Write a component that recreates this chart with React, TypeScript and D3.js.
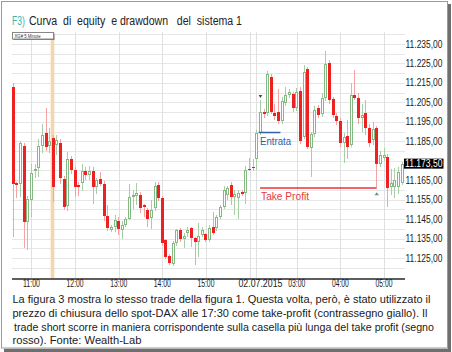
import React from 'react';
import * as d3 from 'd3';

// XG# 5 minute bars, 01.07.2015 10:35 -> 02.07.2015 05:10 (chart time)
const barOpen = [
  11213, 11163.5, 11163, 11182.5, 11143.5, 11155, 11169.5, 11171.5, 11182.5, 11189.5,
  11182.5, 11186.5, 11183, 11184, 11165.5, 11151.5, 11176, 11170, 11162.5, 11163.5,
  11169.5, 11167.5, 11169.5, 11161.5, 11165.5, 11163, 11146.5, 11139.5, 11141, 11144,
  11139.5, 11142, 11145, 11156.5, 11157, 11157.5, 11152, 11149.5, 11145.5, 11150.5,
  11162.5, 11156, 11134, 11126, 11122, 11132.5, 11139.4, 11134.7, 11137.7, 11140.2,
  11135.1, 11133.4, 11136.8, 11137.1, 11134.2, 11141, 11140.2, 11146.2, 11151.3, 11157.5,
  11162.5, 11156.5, 11156, 11159, 11158.2, 11170.5, 11172, 11175.7, 11189.5, 11200.2,
  11199.5, 11218, 11199.5, 11200, 11195.5, 11204.5, 11208.8, 11209.3, 11202, 11211,
  11187.4, 11222, 11181.5, 11188.7, 11202, 11199, 11207, 11225.4, 11206.6, 11198,
  11195.6, 11183.9, 11187.7, 11183.1, 11208.8, 11207.1, 11197, 11199.7, 11191.6, 11185.6,
  11191.6, 11173.3, 11176.5, 11177.1, 11161.7, 11161.7, 11161.7, 11163.4,
];
const barHigh = [
  11215, 11164, 11185, 11184, 11157, 11173.5, 11173.5, 11186, 11194, 11202,
  11192, 11188, 11188, 11186, 11167, 11179.5, 11177.5, 11172, 11164, 11173.5,
  11172, 11172.5, 11172, 11166, 11169, 11164.5, 11152, 11142, 11147, 11146,
  11144, 11146, 11163, 11160, 11163.5, 11159, 11153, 11150.5, 11155, 11164,
  11164, 11157, 11135, 11127, 11133.5, 11140, 11140.5, 11138, 11141, 11141,
  11136, 11142.8, 11141, 11138, 11142, 11148.8, 11147, 11152, 11162, 11162,
  11164, 11160, 11160, 11160, 11172.5, 11176.5, 11176, 11191, 11206, 11201.5,
  11221, 11219.5, 11204, 11212, 11208, 11213, 11212, 11210.5, 11212.5, 11213,
  11224.2, 11223, 11190, 11203, 11203.5, 11210, 11231.5, 11227, 11208, 11199.5,
  11197, 11189, 11196, 11214.7, 11221.5, 11210, 11204, 11206, 11194, 11195,
  11193, 11180, 11181.5, 11178.5, 11171, 11171.5, 11172, 11174.5,
];
const barLow = [
  11136, 11156, 11156.5, 11130, 11129, 11146, 11166, 11166.5, 11179, 11180,
  11179, 11154, 11178, 11163, 11149.5, 11149, 11168, 11156.5, 11157, 11159.5,
  11165, 11165, 11153, 11158, 11162, 11144, 11139, 11138.5, 11138.5, 11137,
  11135, 11141, 11144.5, 11150, 11152, 11148, 11146, 11141, 11140, 11149,
  11154.5, 11131, 11124.5, 11121.5, 11121, 11131, 11133, 11130, 11136, 11130.8,
  11121.4, 11125.7, 11136, 11133, 11133, 11137, 11139, 11145, 11150, 11155,
  11152, 11147, 11145, 11157, 11153, 11169.5, 11169.5, 11170, 11188, 11197,
  11198, 11199, 11196, 11194, 11194, 11203, 11207, 11200, 11200.5, 11183.5,
  11186, 11181, 11166.8, 11187, 11197, 11197.5, 11205.5, 11204, 11197, 11193.5,
  11182, 11173.7, 11176, 11182, 11206, 11194, 11190, 11188, 11182, 11183,
  11161.6, 11172, 11175, 11151.4, 11157.5, 11156, 11158, 11162.5,
];
const barClose = [
  11163, 11162.5, 11184, 11143.5, 11155.5, 11168.5, 11171, 11182.5, 11188, 11182,
  11185, 11161.5, 11185.5, 11166, 11151, 11176, 11170, 11161.5, 11161.5, 11169.5,
  11167.5, 11169.5, 11161.5, 11165, 11163, 11146.5, 11140.5, 11141, 11144.5, 11140,
  11142, 11145, 11156.5, 11157.5, 11158.5, 11150.5, 11151, 11145, 11149.5, 11162,
  11156, 11132.5, 11125.7, 11122.6, 11132.8, 11139.4, 11135, 11136.5, 11139.4, 11135.1,
  11133.4, 11136.3, 11139.4, 11134.5, 11140.2, 11138, 11146.2, 11151.3, 11160, 11161,
  11156.5, 11158, 11158.5, 11158, 11170, 11170, 11171.5, 11189.4, 11200, 11198.8,
  11219.5, 11200.2, 11198, 11195.5, 11205.7, 11208.8, 11210.5, 11202, 11210.5, 11185,
  11220.8, 11182.2, 11188.7, 11201, 11198.5, 11207, 11224.7, 11206, 11198.5, 11195.6,
  11184, 11187.4, 11182.2, 11208.8, 11207.1, 11196.8, 11198.5, 11191.6, 11184.3, 11191.1,
  11173.3, 11178, 11178, 11160.8, 11163.4, 11165.1, 11169.4, 11173.5,
];

const timeLabels = ['11:00', '12:00', '13:00', '14:00', '15:00', '02.07.2015', '03:00', '04:00', '05:00'];
const timeLabelBars = [5, 17, 29, 41, 53, 68, 78, 90, 102];
const gridBars = [5, 17, 29, 41, 53, 65, 66.9, 78, 90, 102];
const priceTicks = [11125, 11135, 11145, 11155, 11165, 11175, 11185, 11195, 11205, 11215, 11225, 11235];
const minorTicks = [11120, 11130, 11140, 11150, 11160, 11170, 11180, 11190, 11200, 11210, 11220, 11230, 11240];
const lastPrice = 11173.5;

const highlightBar = 11; // spot-DAX close 17:30
const signalBar = 68;
const entryPrice = 11189.5;
const entryFromBar = 67.5;
const entryToBar = 73.5;
const takeProfitPrice = 11161;
const takeProfitFromBar = 67.9;
const exitBar = 100;

const titleTag = 'F3)';
const titleText = 'Curva  di  equity  e drawdown   del  sistema 1';
const captionLines = [
  'La figura 3 mostra lo stesso trade della figura 1. Questa volta, però, è stato utilizzato il',
  'prezzo di chiusura dello spot-DAX alle 17:30 come take-profit (contrassegno giallo). Il',
  'trade short scorre in maniera corrispondente sulla casella più lunga del take profit (segno',
  'rosso). Fonte: Wealth-Lab',
];

const W = 452;
const H = 352;
const plot = { left: 12, right: 405, top: 32, bottom: 278 };
const captionWidths = [418, 415, 420, 129];
const FONT = "'Liberation Sans', Arial, sans-serif";

const RED = '#ee2020';
const RED_WICK = '#f3a3a3';
const GREEN = '#84b984';
const GREEN_WICK = '#a6cfa6';

export default function App() {
  const x = d3.scaleLinear().domain([0, 102]).range([13.3, 384]);
  const y = d3.scaleLinear().domain([11125, 11235]).range([258, 44]);
  const step = x(1) - x(0);
  const fmt = d3
    .formatLocale({ decimal: ',', thousands: '.', grouping: [3], currency: ['', ''] })
    .format(',.2f');

  const candles = barOpen.map((o, i) => {
    const c = barClose[i];
    const up = c >= o;
    const bx = Math.round(x(i) - 1.5);
    const yTop = Math.round(y(Math.max(o, c)));
    const yBot = Math.round(y(Math.min(o, c)));
    const h = Math.max(1, yBot - yTop);
    return (
      <g key={i}>
        <line
          x1={bx + 1.5}
          x2={bx + 1.5}
          y1={y(barHigh[i])}
          y2={y(barLow[i])}
          stroke={up ? GREEN_WICK : RED_WICK}
          strokeWidth={1}
        />
        {up ? (
          <rect x={bx + 0.5} y={yTop + 0.5} width={2} height={Math.max(1, h - 1)} fill="#fff" stroke={GREEN} strokeWidth={1} />
        ) : (
          <rect x={bx} y={yTop} width={3} height={h} fill={RED} />
        )}
      </g>
    );
  });

  const yLast = y(lastPrice);
  const ySig = y(barHigh[signalBar]) - 4;
  const yExit = y(barLow[exitBar]) + 7;
  // the last-price box hides the tick label it falls on
  const shownTicks = priceTicks.filter((p) => Math.abs(y(p) - yLast) > 8);

  return (
    <svg
      width={W}
      height={H}
      style={{ position: 'absolute', left: 0, top: 0, background: '#fff' }}
      fontFamily={FONT}
    >
      {/* frame */}
      <rect x={0} y={0} width={W} height={H} fill="#fff" />
      <rect x={1.5} y={1.5} width={446} height={346.5} fill="none" stroke="#9a9a9a" />
      <rect x={448} y={4} width={3} height={348} fill="#6e6e6e" />
      <rect x={4} y={348.8} width={447} height={3.2} fill="#6e6e6e" />

      {/* title */}
      <text x={12} y={25} fontSize={12} fill="#3fb5ad" textLength={13} lengthAdjust="spacingAndGlyphs">
        {titleTag}
      </text>
      <text x={29} y={25} fontSize={12} fill="#222" textLength={213} lengthAdjust="spacingAndGlyphs" style={{ whiteSpace: 'pre' }}>
        {titleText}
      </text>

      {/* grid */}
      <g shapeRendering="crispEdges">
        {minorTicks.concat(priceTicks).map((p) => (
          <line key={'h' + p} x1={plot.left} x2={plot.right} y1={Math.round(y(p)) + 0.5} y2={Math.round(y(p)) + 0.5} stroke="#e6e6e6" />
        ))}
        {gridBars.map((b) => (
          <line key={'v' + b} x1={Math.round(x(b)) + 0.5} x2={Math.round(x(b)) + 0.5} y1={plot.top} y2={plot.bottom} stroke="#e0e0e0" />
        ))}
      </g>

      {/* 17:30 spot close highlight */}
      <rect
        x={x(highlightBar) - step / 2 - 0.8}
        y={plot.top}
        width={step}
        height={plot.bottom - plot.top}
        fill="#f5d7ad"
      />

      {/* candles */}
      <g shapeRendering="crispEdges">{candles}</g>

      {/* entry */}
      <line x1={x(entryFromBar)} x2={x(entryToBar)} y1={y(entryPrice)} y2={y(entryPrice)} stroke="#3562a3" strokeWidth={1.5} />
      <text x={x(entryFromBar) + 1.5} y={y(entryPrice) + 12} fontSize={11} fill="#2f5f9f" textLength={31} lengthAdjust="spacingAndGlyphs">
        Entrata
      </text>
      <path d={`M${x(signalBar) - 1.8},${ySig - 1.5} L${x(signalBar) + 1.8},${ySig - 1.5} L${x(signalBar)},${ySig + 1.5} Z`} fill="#444" />

      {/* take profit */}
      <line x1={x(takeProfitFromBar)} x2={x(exitBar)} y1={y(takeProfitPrice)} y2={y(takeProfitPrice)} stroke="#e83434" strokeWidth={1.5} />
      <text x={x(takeProfitFromBar) + 1} y={y(takeProfitPrice) + 12} fontSize={11} fill="#e23c3c" textLength={48} lengthAdjust="spacingAndGlyphs">
        Take Profit
      </text>
      <path d={`M${x(exitBar) - 2.2},${yExit + 1.5} L${x(exitBar) + 2.2},${yExit + 1.5} L${x(exitBar)},${yExit - 1.5} Z`} fill="#47a66a" />

      {/* symbol box */}
      <rect x={13.5} y={33.5} width={41} height={6.5} fill="#777" />
      <rect x={12.5} y={32.5} width={41} height={6.5} fill="#fff" stroke="#888" strokeWidth={1} />
      <text x={14.5} y={38.2} fontSize={5.5} fill="#333" textLength={26} lengthAdjust="spacingAndGlyphs">
        XG# 5 Minute
      </text>

      {/* price axis */}
      {shownTicks.map((p) => (
        <text key={'t' + p} x={405.5} y={y(p)} dy="0.35em" fontSize={10} fill="#1a1a1a" textLength={37} lengthAdjust="spacingAndGlyphs">
          {fmt(p)}
        </text>
      ))}
      <rect x={404} y={yLast - 5} width={39.5} height={10} fill="#000" />
      <text x={405} y={yLast} dy="0.35em" fontSize={10} fill="#fff" textLength={37.5} lengthAdjust="spacingAndGlyphs">
        {fmt(lastPrice)}
      </text>

      {/* time axis */}
      <line x1={plot.left} x2={plot.right} y1={plot.bottom + 1} y2={plot.bottom + 1} stroke="#5e5e5e" strokeWidth={2} />
      {timeLabels.map((t, i) => (
        <text
          key={t}
          x={x(timeLabelBars[i])}
          y={287}
          textAnchor="middle"
          fontSize={10}
          fill="#1a1a1a"
          textLength={t.length > 5 ? 44 : 17}
          lengthAdjust="spacingAndGlyphs"
        >
          {t}
        </text>
      ))}

      {/* caption */}
      {captionLines.map((line, i) => (
        <text
          key={i}
          x={i === 2 ? 14 : 12.5}
          y={303 + i * 13.8}
          fontSize={10.8}
          fill="#1a1a1a"
          textLength={captionWidths[i]}
          lengthAdjust="spacingAndGlyphs"
        >
          {line}
        </text>
      ))}
    </svg>
  );
}
